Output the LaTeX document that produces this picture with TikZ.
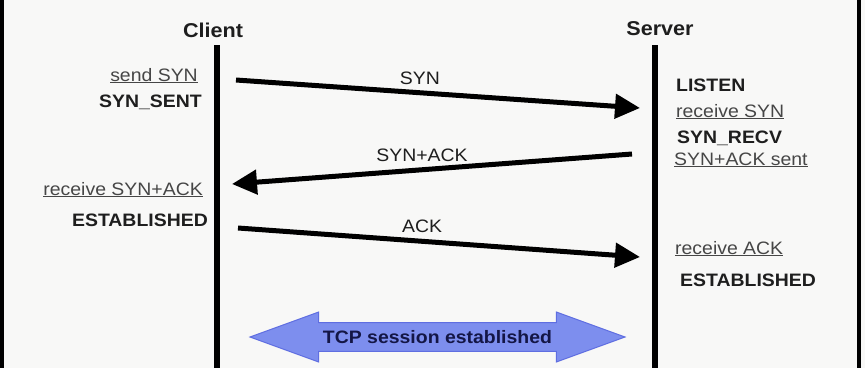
\documentclass[tikz,border=0pt]{standalone}
\usepackage{fontspec}
\setmainfont{Liberation Sans}[FakeStretch=1.08]
\usetikzlibrary{arrows.meta,positioning,shapes.arrows}
\definecolor{paper}{RGB}{248,248,247}
\definecolor{inkdark}{RGB}{30,30,30}
\definecolor{inkgray}{RGB}{70,70,70}
\definecolor{sessfill}{RGB}{125,142,238}
\definecolor{sessdraw}{RGB}{95,110,225}
\definecolor{sessink}{RGB}{20,22,70}
\tikzset{
  head/.style={font=\fontsize{20}{24}\selectfont\bfseries,text=inkdark,inner sep=0pt},
  statebox/.style={font=\fontsize{18}{22}\selectfont\bfseries,text=inkdark,inner sep=0pt},
  eventbox/.style={font=\fontsize{18}{22}\selectfont,text=inkgray,inner sep=0pt},
  msg/.style={font=\fontsize{18}{22}\selectfont,text=inkdark,inner sep=0pt},
  lifeline/.style={draw=black,line width=6pt},
  frame/.style={draw=black,line width=4pt},
  sig/.style={-{Triangle[length=25pt,width=24pt]},draw=black,line width=5pt},
  session/.style={double arrow,double arrow tip angle=40,double arrow head extend=10pt,
    fill=sessfill,draw=sessdraw,line width=1pt,minimum height=375pt,minimum width=50pt,
    inner ysep=6.5pt,font=\fontsize{18}{22}\selectfont\bfseries,text=sessink}
}
\newcommand{\evt}[1]{\underline{#1}}

\begin{document}
\begin{tikzpicture}[x=1pt,y=-1pt]
  \fill[paper] (0,0) rectangle (865,368);
  \useasboundingbox (0,0) rectangle (865,368);
  \draw[frame] (2,0) -- (2,368);
  \draw[frame] (859,0) -- (859,368);

  % actors and lifelines
  \node[head,anchor=base] (client) at (213,37) {Client};
  \node[head,anchor=base] (server) at (660,35) {Server};
  \coordinate (cTop) at (217,45);
  \coordinate (cBot) at (217,368);
  \coordinate (sTop) at (655,45);
  \coordinate (sBot) at (655,368);
  \draw[lifeline] (cTop) -- (cBot);
  \draw[lifeline] (sTop) -- (sBot);

  % client states
  \node[eventbox,anchor=base east] (sendsyn) at (198,81) {\evt{send SYN}};
  \node[statebox,anchor=base east] (synsent) at (202,107) {SYN\_SENT};
  \node[eventbox,anchor=base east] (rcvsynack) at (203,195) {\evt{receive SYN+ACK}};
  \node[statebox,anchor=base east] (cest) at (208,226) {ESTABLISHED};

  % server states
  \node[statebox,anchor=base west] (listen) at (676,91) {LISTEN};
  \node[eventbox,anchor=base west] (rcvsyn) at (676,117) {\evt{receive SYN}};
  \node[statebox,anchor=base west] (synrecv) at (677,143) {SYN\_RECV};
  \node[eventbox,anchor=base west] (synacksent) at (674,165) {\evt{SYN+ACK sent}};
  \node[eventbox,anchor=base west] (rcvack) at (675,254) {\evt{receive ACK}};
  \node[statebox,anchor=base west] (sest) at (680,286) {ESTABLISHED};

  % handshake
  \coordinate (syn1) at (236,80);
  \coordinate (syn2) at (640,108);
  \coordinate (sa1) at (632,154);
  \coordinate (sa2) at (232,184);
  \coordinate (ack1) at (238,228);
  \coordinate (ack2) at (640,257);
  \draw[sig] (syn1) -- node[msg,pos=0.455,above=6pt] (synlbl) {SYN} (syn2);
  \draw[sig] (sa1) -- node[msg,pos=0.525,above=6pt] (salbl) {SYN+ACK} (sa2);
  \draw[sig] (ack1) -- node[msg,pos=0.458,above=6pt] (acklbl) {ACK} (ack2);

  \node[session] (sess) at (437.5,337) {TCP session established};
\end{tikzpicture}
\end{document}
